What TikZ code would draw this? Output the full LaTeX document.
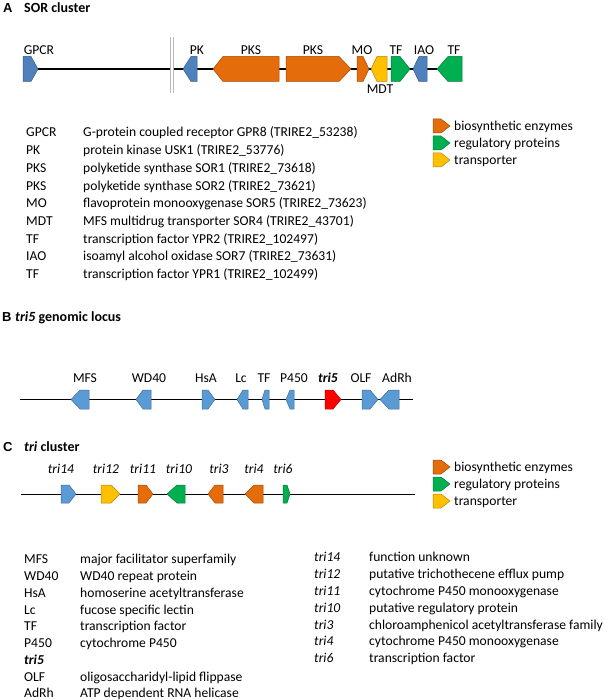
\documentclass[tikz,border=0pt]{standalone}
\usepackage{fontspec}
\setmainfont{Carlito}
\newfontfamily\panelfont{Liberation Sans}
\definecolor{genorange}{RGB}{228,108,10}
\definecolor{gengreen}{RGB}{0,176,80}
\definecolor{genyellow}{RGB}{255,192,0}
\definecolor{genblue}{RGB}{79,129,189}
\definecolor{genltblue}{RGB}{91,155,213}
\definecolor{genred}{RGB}{255,0,0}
% gene arrow: name, colour, tail x, shoulder x, tip x, track y, half height
\newcommand{\gene}[7]{%
  \draw[gene=#2] (#3,#6-#7) -- (#4,#6-#7) -- (#5,#6) -- (#4,#6+#7) -- (#3,#6+#7) -- cycle;
  \coordinate (#1) at ({(#3+#5)/2},#6);}
\begin{document}
\begin{tikzpicture}[x=1pt,y=-1pt,
      lbl/.style={font=\fontsize{13.6}{16}\selectfont,inner sep=0pt,anchor=base},
      item/.style={font=\fontsize{13.6}{16}\selectfont,inner sep=0pt,anchor=base west},
      hdr/.style={font=\fontsize{14}{16}\selectfont\bfseries,inner sep=0pt,anchor=base west},
      panel/.style={font=\fontsize{13}{16}\selectfont\panelfont\bfseries,inner sep=0pt,anchor=base west},
      track/.style={line width=1pt},
      gene/.style={draw=#1!70!black,fill=#1,line width=0.5pt,line join=round}
    ]
    \useasboundingbox (0,0) rectangle (610,700);

    % ---------------- A: SOR cluster
    \node[panel] (pA) at (3,12.7) {A};
    \node[hdr] (tA) at (24,12.7) {SOR cluster};
    \coordinate (aStart) at (38,69);
    \coordinate (aCut1) at (170.7,69);
    \coordinate (aCut2) at (173.3,69);
    \coordinate (aEnd) at (437,69);
    \draw[track,line width=1.6pt] (aStart) -- (aCut1);
    \draw[track,line width=1.6pt] (aCut2) -- (aEnd);
    \draw[gray!55,line width=0.8pt] (170.7,37) -- (170.7,93);
    \draw[gray!55,line width=0.8pt] (173.3,37) -- (173.3,93);
    \gene{gpcr}{genblue}{23}{31}{38}{69}{12.5}
    \gene{pk}{genblue}{197}{191}{183}{69}{12.5}
    \gene{pksa}{genorange}{279}{223}{213}{69}{12.5}
    \gene{pksb}{genorange}{286}{339}{351}{69}{12.5}
    \gene{mo}{genorange}{357}{363}{369}{69}{12.5}
    \gene{mdt}{genyellow}{387}{377}{371}{69}{12.5}
    \gene{tfa}{gengreen}{391}{400}{410}{69}{12.5}
    \gene{iao}{genblue}{427}{419}{413}{69}{12.5}
    \gene{tfb}{gengreen}{462}{448}{437}{69}{12.5}
    \node[lbl] (lgpcr) at (39,54.5) {GPCR};
    \node[lbl] (lpk) at (197,54.5) {PK};
    \node[lbl] (lpksa) at (251,54.5) {PKS};
    \node[lbl] (lpksb) at (313,54.5) {PKS};
    \node[lbl] (lmo) at (362,54.5) {MO};
    \node[lbl] (lmdt) at (380,93.5) {MDT};
    \node[lbl] (ltfa) at (396,54.5) {TF};
    \node[lbl] (liao) at (424,54.5) {IAO};
    \node[lbl] (ltfb) at (454,54.5) {TF};

    % legend A
    \gene{keyAo}{genorange}{433}{441}{450}{126}{7}
    \gene{keyAg}{gengreen}{433}{441}{450}{143}{7}
    \gene{keyAy}{genyellow}{433}{441}{450}{160}{7}
    \node[item] (kAo) at (454,130.5) {biosynthetic enzymes};
    \node[item] (kAg) at (454,147.5) {regulatory proteins};
    \node[item] (kAy) at (454,164.5) {transporter};

    % list A
    \node[item] (a1) at (26,137) {GPCR};
    \node[item] (a2) at (26,154.7) {PK};
    \node[item] (a3) at (26,172.4) {PKS};
    \node[item] (a4) at (26,190.1) {PKS};
    \node[item] (a5) at (26,207.8) {MO};
    \node[item] (a6) at (26,225.5) {MDT};
    \node[item] (a7) at (26,243.2) {TF};
    \node[item] (a8) at (26,260.9) {IAO};
    \node[item] (a9) at (26,278.6) {TF};
    \node[item] (d1) at (83,137) {G-protein coupled receptor GPR8 (TRIRE2\_53238)};
    \node[item] (d2) at (83,154.7) {protein kinase USK1 (TRIRE2\_53776)};
    \node[item] (d3) at (83,172.4) {polyketide synthase SOR1 (TRIRE2\_73618)};
    \node[item] (d4) at (83,190.1) {polyketide synthase SOR2 (TRIRE2\_73621)};
    \node[item] (d5) at (83,207.8) {flavoprotein monooxygenase SOR5 (TRIRE2\_73623)};
    \node[item] (d6) at (83,225.5) {MFS multidrug transporter SOR4 (TRIRE2\_43701)};
    \node[item] (d7) at (83,243.2) {transcription factor YPR2 (TRIRE2\_102497)};
    \node[item] (d8) at (83,260.9) {isoamyl alcohol oxidase SOR7 (TRIRE2\_73631)};
    \node[item] (d9) at (83,278.6) {transcription factor YPR1 (TRIRE2\_102499)};

    % ---------------- B: tri5 locus
    \node[panel] (pB) at (2,321.7) {B};
    \node[hdr] (tB) at (15,321.7) {\textit{tri5} genomic locus};
    \coordinate (bStart) at (20,399.5);
    \coordinate (bEnd) at (413,399.5);
    \draw[track] (bStart) -- (bEnd);
    \gene{mfs}{genltblue}{89}{80}{71}{399.5}{9.5}
    \gene{wd}{genltblue}{151}{143}{136}{399.5}{9.5}
    \gene{hsa}{genltblue}{202}{208}{215}{399.5}{9.5}
    \gene{lc}{genltblue}{248}{243}{237}{399.5}{9.5}
    \gene{tfc}{genltblue}{269}{265}{262}{399.5}{9.5}
    \gene{pfl}{genltblue}{294}{290}{286}{399.5}{9.5}
    \gene{trifive}{genred}{325}{333}{341}{399.5}{9.5}
    \gene{olf}{genltblue}{362}{370}{378}{399.5}{9.5}
    \gene{adrh}{genltblue}{399}{389}{380}{399.5}{9.5}
    \node[lbl] (lmfs) at (85,382.5) {MFS};
    \node[lbl] (lwd) at (149,382.5) {WD40};
    \node[lbl] (lhsa) at (206,382.5) {HsA};
    \node[lbl] (llc) at (241,382.5) {Lc};
    \node[lbl] (ltfc) at (264,382.5) {TF};
    \node[lbl] (lpfl) at (294,382.5) {P450};
    \node[lbl] (ltrifive) at (328,382.5) {\textbf{\textit{tri5}}};
    \node[lbl] (lolf) at (361,382.5) {OLF};
    \node[lbl] (ladrh) at (397,382.5) {AdRh};

    % ---------------- C: tri cluster
    \node[panel] (pC) at (3,451) {C};
    \node[hdr] (tC) at (24,451) {\textit{tri} cluster};
    \coordinate (cStart) at (21,494);
    \coordinate (cEnd) at (415,494);
    \draw[track] (cStart) -- (cEnd);
    \gene{tri14}{genltblue}{61}{69}{76}{494}{9}
    \gene{tri12}{genyellow}{101}{111}{120}{494}{9}
    \gene{tri11}{genorange}{138}{146}{153}{494}{9}
    \gene{tri10}{gengreen}{185}{177}{167}{494}{9}
    \gene{tri3}{genorange}{223}{215}{208}{494}{9}
    \gene{tri4}{genorange}{263}{254}{245}{494}{9}
    \gene{tri6}{gengreen}{283}{287}{290}{494}{9}
    \node[lbl] (ltri14) at (61,473.5) {\textit{tri14}};
    \node[lbl] (ltri12) at (106,473.5) {\textit{tri12}};
    \node[lbl] (ltri11) at (143,473.5) {\textit{tri11}};
    \node[lbl] (ltri10) at (179,473.5) {\textit{tri10}};
    \node[lbl] (ltri3) at (219,473.5) {\textit{tri3}};
    \node[lbl] (ltri4) at (254,473.5) {\textit{tri4}};
    \node[lbl] (ltri6) at (283,473.5) {\textit{tri6}};

    % legend C
    \gene{keyCo}{genorange}{433}{441}{450}{467}{7}
    \gene{keyCg}{gengreen}{433}{441}{450}{484}{7}
    \gene{keyCy}{genyellow}{433}{441}{450}{501}{7}
    \node[item] (kCo) at (454,471.5) {biosynthetic enzymes};
    \node[item] (kCg) at (454,488.5) {regulatory proteins};
    \node[item] (kCy) at (454,505.5) {transporter};

    % list B
    \node[item] (b1) at (24,563.8) {MFS};
    \node[item] (b2) at (24,580.5) {WD40};
    \node[item] (b3) at (24,597.3) {HsA};
    \node[item] (b4) at (24,614.0) {Lc};
    \node[item] (b5) at (24,630.8) {TF};
    \node[item] (b6) at (24,647.5) {P450};
    \node[item] (b7) at (24,664.3) {\textbf{\textit{tri5}}};
    \node[item] (b8) at (24,681.0) {OLF};
    \node[item] (b9) at (24,697.8) {AdRh};
    \node[item] (e1) at (80,563.8) {major facilitator superfamily};
    \node[item] (e2) at (80,580.5) {WD40 repeat protein};
    \node[item] (e3) at (80,597.3) {homoserine acetyltransferase};
    \node[item] (e4) at (80,614.0) {fucose specific lectin};
    \node[item] (e5) at (80,630.8) {transcription factor};
    \node[item] (e6) at (80,647.5) {cytochrome P450};
    \node[item] (e8) at (80,681.0) {oligosaccharidyl-lipid flippase};
    \node[item] (e9) at (80,697.8) {ATP dependent RNA helicase};

    % list C
    \node[item] (c1) at (314,561.8) {\textit{tri14}};
    \node[item] (c2) at (314,578.6) {\textit{tri12}};
    \node[item] (c3) at (314,595.4) {\textit{tri11}};
    \node[item] (c4) at (314,612.2) {\textit{tri10}};
    \node[item] (c5) at (314,629.0) {\textit{tri3}};
    \node[item] (c6) at (314,645.8) {\textit{tri4}};
    \node[item] (c7) at (314,662.6) {\textit{tri6}};
    \node[item] (f1) at (369,561.8) {function unknown};
    \node[item] (f2) at (369,578.6) {putative trichothecene efflux pump};
    \node[item] (f3) at (369,595.4) {cytochrome P450 monooxygenase};
    \node[item] (f4) at (369,612.2) {putative regulatory protein};
    \node[item] (f5) at (369,629.0) {chloroamphenicol acetyltransferase family};
    \node[item] (f6) at (369,645.8) {cytochrome P450 monooxygenase};
    \node[item] (f7) at (369,662.6) {transcription factor};
  \end{tikzpicture}
\end{document}
